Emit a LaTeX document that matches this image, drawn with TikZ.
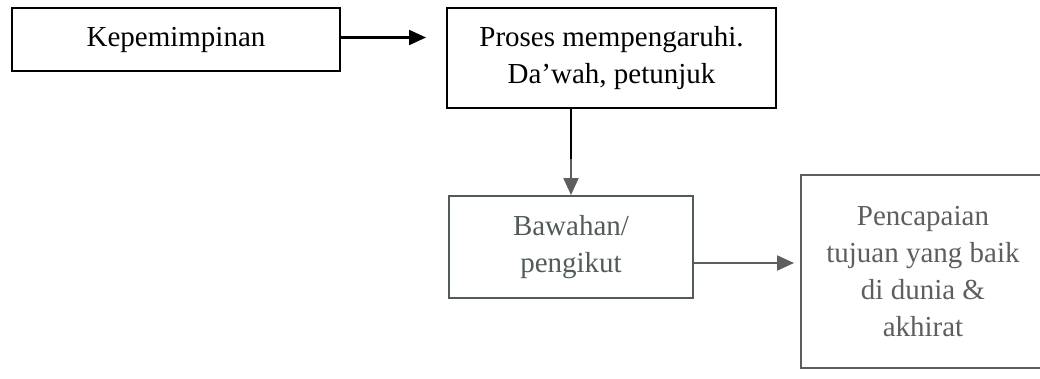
\documentclass[tikz,border=0pt]{standalone}
\usepackage{fontspec}
\setmainfont{Liberation Serif}
\usetikzlibrary{arrows.meta}

\definecolor{fadegreen}{HTML}{505C55}
\definecolor{fadegray}{HTML}{5E5E5E}

\tikzset{
    box/.style={draw, line width=2pt, inner sep=0pt, align=center,
        font=\fontsize{29}{37}\selectfont},
    arr/.style={line width=2.2pt, -{Triangle[length=17pt,width=15pt]}}
}

\begin{document}
\begin{tikzpicture}[x=1pt, y=-1pt]
        \useasboundingbox (0,0) rectangle (1040,378);

        % Draw nodes
        \node[box, minimum width=328pt, minimum height=63pt] (lead) at (176,39.5) {Kepemimpinan};
        \node[box, minimum width=329pt, minimum height=100pt] (influence) at (611.5,58) {Proses mempengaruhi.\\Da’wah, petunjuk};
        \node[box, draw=fadegreen, text=fadegreen, minimum width=244pt, minimum height=102pt] (follower) at (571,247) {Bawahan/\\pengikut};
        \node[box, draw=fadegray, text=fadegray, minimum width=244pt, minimum height=193pt] (goal) at (923,271.5) {Pencapaian\\tujuan yang baik\\di dunia \&\\akhirat};

        % Draw connections
        \draw[arr] ([yshift=2pt]lead.east) -- ([xshift=-20pt,yshift=2pt]influence.west |- lead.east);
        \draw[arr, fadegray] (influence.south -| follower.north) -- (follower.north);
        \draw[line width=2.2pt] (influence.south -| follower.north) -- ++(0,50);
        \draw[arr, fadegray] ([yshift=-16pt]follower.east) -- ([xshift=-6pt,yshift=-16pt]goal.west |- follower.east);
    \end{tikzpicture}
\end{document}
